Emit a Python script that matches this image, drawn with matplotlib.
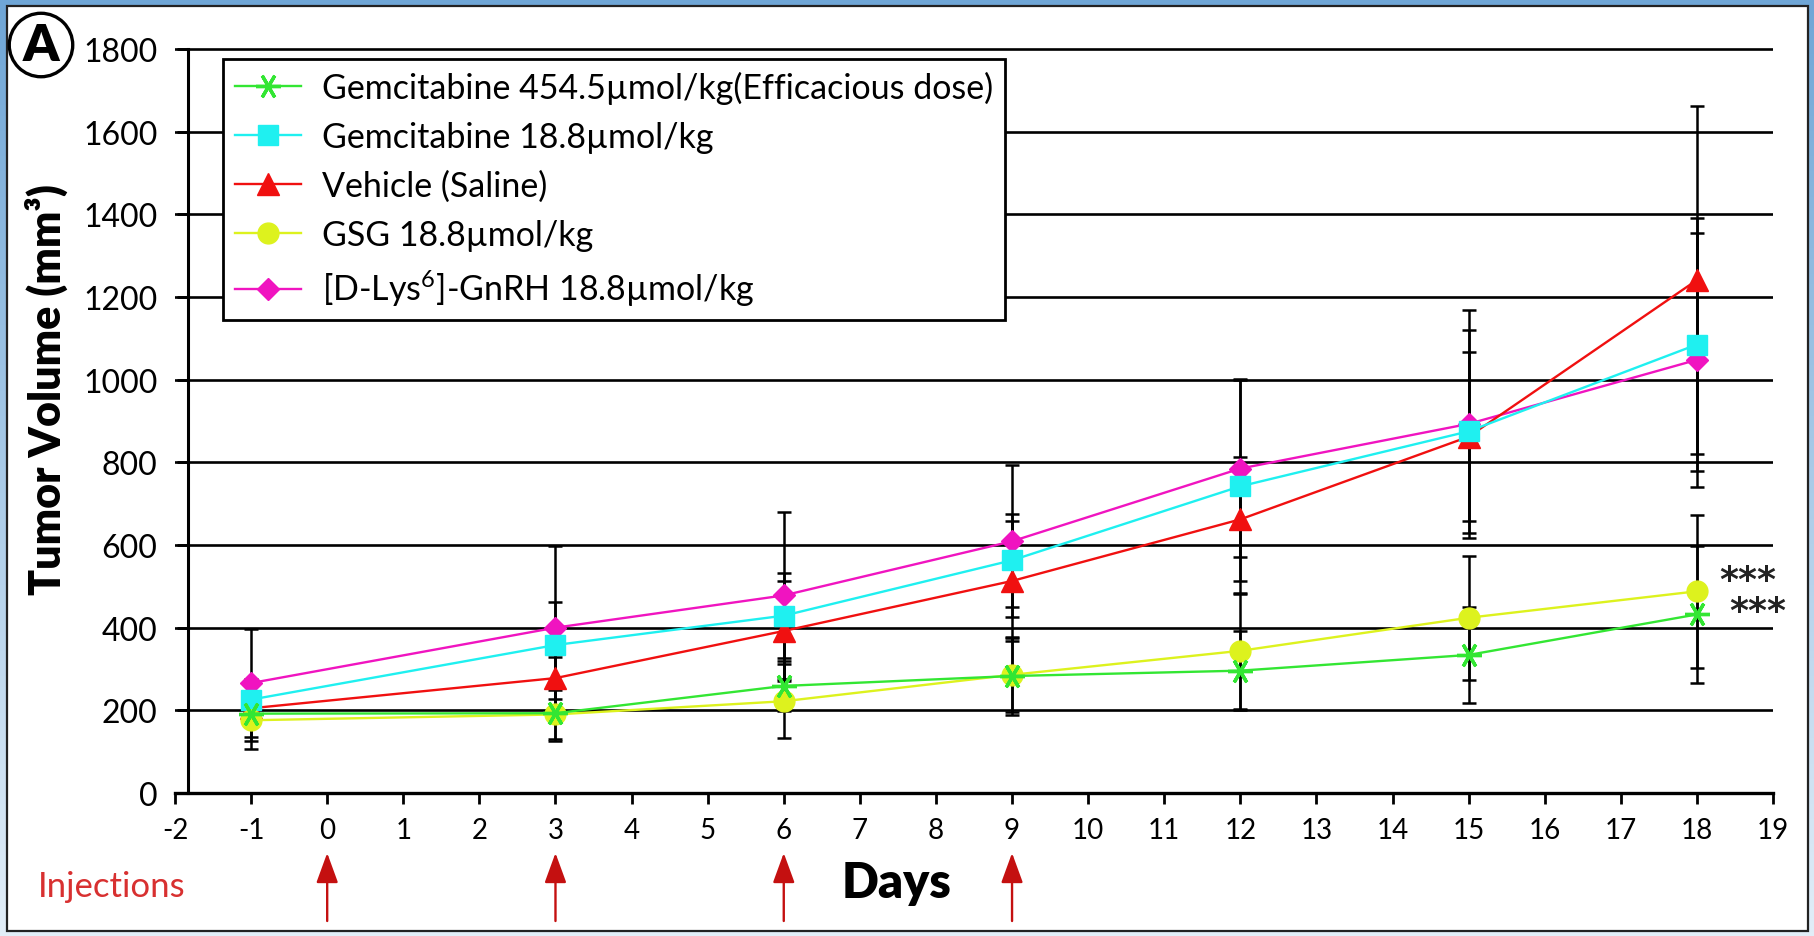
import numpy as np
import matplotlib
matplotlib.use("Agg")
import matplotlib.pyplot as plt
from matplotlib.patches import Rectangle
from matplotlib.colors import LinearSegmentedColormap

plt.rcParams['font.family'] = ['Lato', 'DejaVu Sans']
plt.rcParams['mathtext.fontset'] = 'custom'
plt.rcParams['mathtext.rm'] = 'Lato'
plt.rcParams['mathtext.it'] = 'Lato:italic'
plt.rcParams['mathtext.bf'] = 'Lato:bold'
plt.rcParams['mathtext.default'] = 'rm'

# ---------------- data ----------------
days = [-1, 3, 6, 9, 12, 15, 18]
labels = ["Gemcitabine 454.5\u00b5mol/kg(Efficacious dose)",
          "Gemcitabine 18.8\u00b5mol/kg",
          "Vehicle (Saline)",
          "GSG 18.8\u00b5mol/kg",
          "[D-Lys$^{6}$]-GnRH 18.8\u00b5mol/kg"]
gem_high = [192, 193, 259, 283, 296, 334, 432]
gem_low = [226, 358, 429, 563, 742, 875, 1085]
vehicle = [205, 278, 392, 513, 662, 862, 1241]
gsg = [176, 190, 222, 286, 344, 424, 488]
dlys = [266, 400, 478, 609, 785, 893, 1048]

err_gem_high = [85, 68, 60, 95, 96, 117, 165]
err_gem_low = [40, 105, 103, 113, 260, 245, 305]
err_vehicle = [30, 50, 120, 146, 150, 205, 422]
err_gsg = [50, 60, 90, 90, 140, 150, 185]
err_dlys = [130, 198, 202, 184, 215, 275, 308]

yticks = list(range(0, 1801, 200))
xticks = list(range(-2, 20))
injection_days = [0, 3, 6, 9]
sig_marks = ["***", "***"]

# ---------------- figure ----------------
W, H = 1814, 937
fig = plt.figure(figsize=(W / 100, H / 100), dpi=100)

# blue gradient frame
bg = fig.add_axes([0, 0, 1, 1], zorder=-10)
grad = np.linspace(0, 1, 256).reshape(-1, 1)
cmap = LinearSegmentedColormap.from_list("frame", ["#6fa6d6", "#e2eef8"])
bg.imshow(grad, aspect='auto', cmap=cmap, extent=[0, 1, 0, 1])
bg.set_axis_off()
fig.patches.append(Rectangle((7 / W, 1 - 932 / H), (1808 - 7) / W, (932 - 7) / H,
                             transform=fig.transFigure, facecolor='white',
                             edgecolor='#222222', linewidth=1.6, zorder=-5))

ymax = 1830
px_per_unit = 744 / 1800
ax_left = 175 / W
ax_w = (1773 - 175) / W
ax_bottom = 1 - 794 / H
ax_h = ymax * px_per_unit / H
ax = fig.add_axes([ax_left, ax_bottom, ax_w, ax_h])
ax.set_facecolor('none')

series = [
    (gem_high, err_gem_high, '#33e633', (6, 2, 90), 18, 6),
    (gem_low, err_gem_low, '#1ff0f0', 's', 15, 5),
    (vehicle, err_vehicle, '#f01010', '^', 16, 4),
    (gsg, err_gsg, '#ddf21e', 'o', 15, 5.5),
    (dlys, err_dlys, '#f014c0', 'D', 11.5, 3.5),
]

for vals, errs, col, mk, ms, z in series:
    ax.errorbar(days, vals, yerr=errs, fmt='none', ecolor='black',
                elinewidth=1.8, capsize=5, capthick=1.8, zorder=2.5)

for (vals, errs, col, mk, ms, z), lab in zip(series, labels):
    if isinstance(mk, tuple):
        ax.plot(days, vals, color=col, lw=1.7, marker=mk, markersize=ms,
                markeredgecolor=col, markeredgewidth=2.4, label=lab, zorder=z)
    else:
        ax.plot(days, vals, color=col, lw=1.7, marker=mk, markersize=ms,
                markeredgecolor=col, markerfacecolor=col, label=lab, zorder=z)

ax.set_xlim(-2, 19)
ax.set_ylim(0, ymax)
ax.set_yticks(yticks)
ax.set_yticklabels([str(v) for v in yticks])
ax.set_xticks(xticks)
ax.set_xticklabels([str(v) for v in xticks])

ax.yaxis.grid(True, color='black', linewidth=1.9, zorder=1)
ax.set_axisbelow(True)
for s in ['top', 'right']:
    ax.spines[s].set_visible(False)
ax.spines['left'].set_position(('data', -1.83))
ax.spines['left'].set_bounds(0, 1800)
ax.spines['left'].set_linewidth(2.2)
ax.spines['bottom'].set_linewidth(2.4)
ax.tick_params(axis='y', direction='out', length=8, width=2, pad=14,
               labelsize=23, colors='black')
ax.tick_params(axis='x', direction='out', length=8, width=2, pad=9,
               labelsize=20, colors='black')

# significance marks next to the last GSG and Gemcitabine high points
ax.text(18.3, gsg[-1] + 27, sig_marks[0], fontsize=26, fontweight='bold',
        family='DejaVu Sans', color='#222222', ha='left', va='center')
ax.text(18.42, gem_high[-1] + 8, sig_marks[1], fontsize=26, fontweight='bold',
        family='DejaVu Sans', color='#222222', ha='left', va='center')

# legend
leg = ax.legend(loc='upper left', bbox_to_anchor=(223 / W, 1 - 60 / H),
                bbox_transform=fig.transFigure, fontsize=24.5, frameon=True,
                fancybox=False, edgecolor='black', framealpha=1,
                numpoints=1, handlelength=1.95, handletextpad=0.6,
                labelspacing=0.5, borderpad=0.35, borderaxespad=0)
leg.get_frame().set_linewidth(2.0)
leg.set_zorder(10)

# axis labels
fig.text(46 / W, 1 - 390 / H, "Tumor Volume (mm\u00b3)", rotation=90,
         fontsize=31, fontweight='heavy', ha='center', va='center')
fig.text(897 / W, 1 - 883 / H, "Days", fontsize=35, fontweight='heavy',
         ha='center', va='center')

# injections
fig.text(38 / W, 1 - 887 / H, "Injections", fontsize=25, color='#d83030',
         ha='left', va='center')
axh = ax_h * H
head_frac = ((H - 854) - (H - 794)) / axh
tail_frac = ((H - 922) - (H - 794)) / axh
for d in injection_days:
    ax.annotate('', xy=(d, head_frac), xytext=(d, tail_frac),
                xycoords=ax.get_xaxis_transform(),
                textcoords=ax.get_xaxis_transform(),
                annotation_clip=False,
                arrowprops=dict(arrowstyle='-|>,head_length=1.15,head_width=0.42',
                                mutation_scale=16, color='#c41010', lw=1.7,
                                shrinkA=0, shrinkB=0))

# panel letter
fig.text(41 / W, 1 - 46 / H, "A", fontsize=37, fontweight='heavy',
         ha='center', va='center',
         bbox=dict(boxstyle='circle,pad=0.17', facecolor='white',
                   edgecolor='black', linewidth=2.4))

fig.savefig("out.png", dpi=100)
